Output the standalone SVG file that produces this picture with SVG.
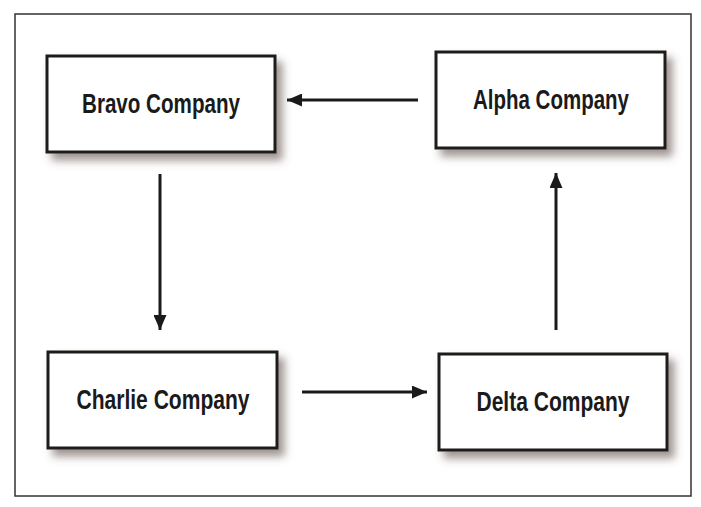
<svg xmlns="http://www.w3.org/2000/svg" width="701" height="507" viewBox="0 0 701 507">
<style>
.box{fill:#fff;stroke:#1a1a1a;stroke-width:3}
.lbl{font-family:"Liberation Sans",Arial,sans-serif;font-weight:bold;font-size:27px;fill:#1a1a1a;text-anchor:middle}
.conn{stroke:#1a1a1a;stroke-width:3;fill:none}
</style>
<defs>
<filter id="sh" x="-20%" y="-30%" width="150%" height="170%">
<feGaussianBlur in="SourceAlpha" stdDeviation="4"/>
<feOffset dx="6" dy="7" result="b"/>
<feFlood flood-color="#5e4e48" flood-opacity="0.6"/>
<feComposite in2="b" operator="in"/>
<feMerge><feMergeNode/><feMergeNode in="SourceGraphic"/></feMerge>
</filter>
<marker id="ah" markerWidth="15" markerHeight="13" refX="15" refY="6.5" orient="auto" markerUnits="userSpaceOnUse">
<path d="M0,0 L15,6.5 L0,13 Z" fill="#1a1a1a"/>
</marker>
</defs>
<rect x="0" y="0" width="701" height="507" fill="#fff"/>
<rect x="15" y="14" width="676" height="482" fill="none" stroke="#333" stroke-width="1.5"/>
<g id="connectors">
<line class="conn" x1="418" y1="100" x2="287" y2="100" marker-end="url(#ah)"/>
<line class="conn" x1="160" y1="174" x2="160" y2="330" marker-end="url(#ah)"/>
<line class="conn" x1="302" y1="392" x2="427" y2="392" marker-end="url(#ah)"/>
<line class="conn" x1="556" y1="330" x2="556" y2="173" marker-end="url(#ah)"/>
</g>
<g id="bravo">
<rect class="box" x="47" y="56" width="228" height="96" filter="url(#sh)"/>
<text class="lbl" x="161" y="113" textLength="158" lengthAdjust="spacingAndGlyphs">Bravo Company</text>
</g>
<g id="alpha">
<rect class="box" x="436" y="52" width="229" height="96" filter="url(#sh)"/>
<text class="lbl" x="551" y="109" textLength="156" lengthAdjust="spacingAndGlyphs">Alpha Company</text>
</g>
<g id="charlie">
<rect class="box" x="48" y="352" width="229" height="96" filter="url(#sh)"/>
<text class="lbl" x="163" y="409" textLength="173" lengthAdjust="spacingAndGlyphs">Charlie Company</text>
</g>
<g id="delta">
<rect class="box" x="439" y="354" width="228" height="96" filter="url(#sh)"/>
<text class="lbl" x="553" y="411" textLength="153" lengthAdjust="spacingAndGlyphs">Delta Company</text>
</g>
</svg>
